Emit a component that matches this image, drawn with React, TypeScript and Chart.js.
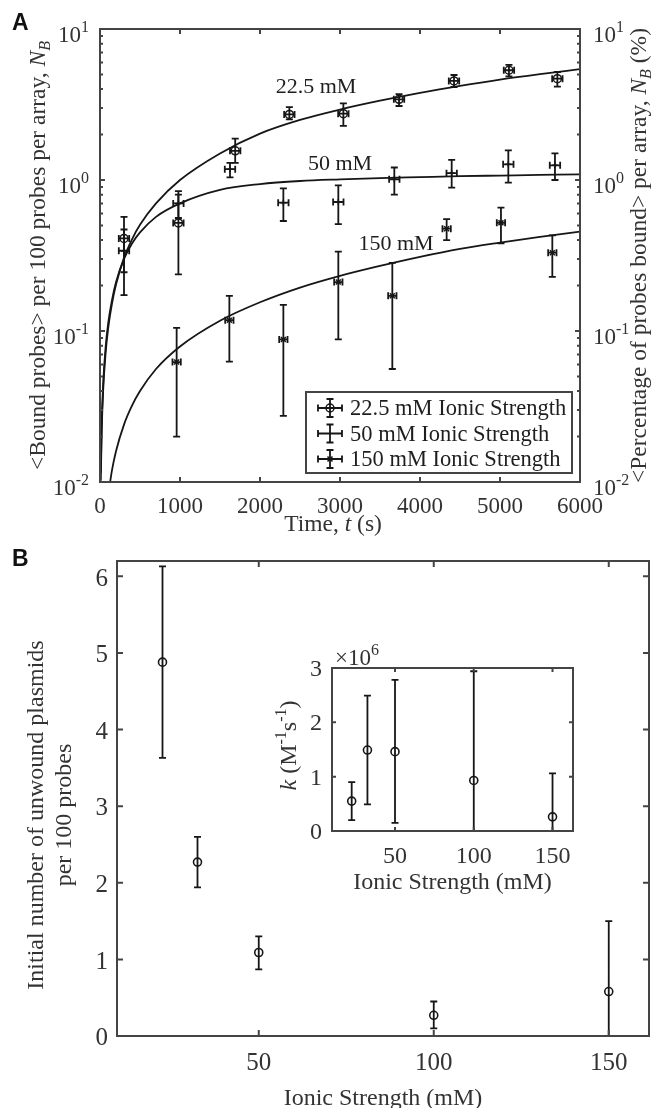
import React, { useEffect, useRef } from "react";
import { Chart, registerables } from "chart.js";

Chart.register(...registerables);

const SERIF = '"Liberation Serif", "Times New Roman", Times, serif';
const SANS = '"Liberation Sans", Arial, Helvetica, sans-serif';
const AXIS_COLOR = "#444444";
const TEXT_COLOR = "#333333";
const INK = "#161616";

// ---------------- Panel A data ----------------
const series225Time = [300, 980, 1690, 2367, 3042, 3738, 4425, 5112, 5717];
const series225Value = [0.41, 0.52, 1.56, 2.72, 2.75, 3.42, 4.53, 5.33, 4.69];
const series225Low = [0.245, 0.237, 1.3, 2.52, 2.28, 3.09, 4.13, 4.86, 4.15];
const series225High = [0.57, 0.8, 1.88, 3.04, 3.22, 3.7, 4.96, 5.78, 5.19];

const series50Time = [300, 980, 1625, 2292, 2979, 3679, 4396, 5104, 5687];
const series50Value = [0.34, 0.7, 1.18, 0.708, 0.715, 1.01, 1.11, 1.27, 1.25];
const series50Low = [0.173, 0.56, 1.04, 0.535, 0.51, 0.8, 0.89, 0.96, 1.0];
const series50High = [0.47, 0.845, 1.3, 0.88, 0.92, 1.21, 1.36, 1.57, 1.5];

const series150Time = [958, 1617, 2292, 2979, 3654, 4333, 5012, 5654];
const series150Value = [0.0623, 0.118, 0.088, 0.211, 0.171, 0.476, 0.521, 0.33];
const series150Low = [0.02, 0.0627, 0.0274, 0.088, 0.056, 0.4, 0.38, 0.228];
const series150High = [0.105, 0.171, 0.149, 0.335, 0.283, 0.55, 0.656, 0.43];

const timeErr = 65;

const fitTime = [10, 20, 40, 70, 100, 150, 200, 300, 400, 500, 700, 1000, 1500, 2000, 2500, 3000, 3500, 4000, 4500, 5000, 5500, 6000];
const fit225 = [0.0102, 0.0204, 0.041, 0.071, 0.102, 0.152, 0.203, 0.305, 0.405, 0.505, 0.7, 1.0, 1.5, 2.03, 2.5, 2.93, 3.35, 3.78, 4.2, 4.62, 5.02, 5.42];
const fit50 = [0.0115, 0.023, 0.045, 0.078, 0.11, 0.16, 0.21, 0.3, 0.38, 0.45, 0.57, 0.7, 0.86, 0.94, 0.985, 1.01, 1.03, 1.045, 1.06, 1.07, 1.08, 1.09];
const fitTime150 = [100, 150, 200, 300, 400, 500, 700, 1000, 1500, 2000, 2500, 3000, 3500, 4000, 4500, 5000, 5500, 6000];
const fit150 = [0.008, 0.012, 0.016, 0.024, 0.032, 0.04, 0.056, 0.079, 0.117, 0.155, 0.194, 0.232, 0.27, 0.31, 0.35, 0.385, 0.42, 0.455];

const legendLabels = ["22.5 mM Ionic Strength", "50 mM Ionic Strength", "150 mM Ionic Strength"];
const curveLabels = ["22.5 mM", "50 mM", "150 mM"];

// ---------------- Panel B data ----------------
const ionicStrength = [22.5, 32.5, 50, 100, 150];
const ionicTicks = [50, 100, 150];
const plasmidCount = [4.88, 2.27, 1.09, 0.27, 0.58];
const plasmidLow = [3.63, 1.94, 0.87, 0.1, -0.34];
const plasmidHigh = [6.13, 2.6, 1.3, 0.45, 1.5];

// inset: rate constant, in units of 10^6 M^-1 s^-1
const rateConst = [0.55, 1.49, 1.46, 0.93, 0.26];
const rateLow = [0.2, 0.49, 0.15, -1.08, -0.54];
const rateHigh = [0.9, 2.49, 2.78, 2.94, 1.06];

// ---------------- helpers ----------------
type Seg = { t: string; it?: boolean; sup?: boolean; sub?: boolean };

function segFont(s: Seg, size: number) {
  const sz = s.sup || s.sub ? Math.round(size * 0.68) : size;
  return `${s.it ? "italic " : ""}${sz}px ${SERIF}`;
}

function richText(
  ctx: CanvasRenderingContext2D,
  segs: Seg[],
  x: number,
  y: number,
  size: number,
  align: "left" | "center" | "right" = "center",
  rot = 0,
  color = TEXT_COLOR
) {
  ctx.save();
  ctx.translate(x, y);
  if (rot) ctx.rotate(rot);
  ctx.textBaseline = "alphabetic";
  ctx.textAlign = "left";
  ctx.fillStyle = color;
  let w = 0;
  for (const s of segs) {
    ctx.font = segFont(s, size);
    w += ctx.measureText(s.t).width;
  }
  let cx = align === "left" ? 0 : align === "center" ? -w / 2 : -w;
  const base = size * 0.33;
  for (const s of segs) {
    ctx.font = segFont(s, size);
    const dy = s.sup ? -size * 0.42 : s.sub ? size * 0.22 : 0;
    ctx.fillText(s.t, cx, base + dy);
    cx += ctx.measureText(s.t).width;
  }
  ctx.restore();
}

function pts(xs: number[], ys: number[]) {
  return xs.map((x, i) => ({ x, y: ys[i] }));
}

function drawFrame(chart: any, xVals: number[], yVals: number[], len: number, yMinor: number[] = [], minorLen = 0, lw = 2) {
  const { ctx, chartArea: a } = chart;
  const xs = chart.scales.x;
  const ys = chart.scales.y;
  ctx.save();
  ctx.strokeStyle = AXIS_COLOR;
  ctx.lineWidth = lw;
  ctx.beginPath();
  xVals.forEach((v) => {
    const p = xs.getPixelForValue(v);
    ctx.moveTo(p, a.bottom);
    ctx.lineTo(p, a.bottom - len);
    ctx.moveTo(p, a.top);
    ctx.lineTo(p, a.top + len);
  });
  yVals.forEach((v) => {
    const p = ys.getPixelForValue(v);
    ctx.moveTo(a.left, p);
    ctx.lineTo(a.left + len, p);
    ctx.moveTo(a.right, p);
    ctx.lineTo(a.right - len, p);
  });
  yMinor.forEach((v) => {
    const p = ys.getPixelForValue(v);
    ctx.moveTo(a.left, p);
    ctx.lineTo(a.left + minorLen, p);
    ctx.moveTo(a.right, p);
    ctx.lineTo(a.right - minorLen, p);
  });
  ctx.stroke();
  ctx.strokeRect(a.left, a.top, a.right - a.left, a.bottom - a.top);
  ctx.restore();
}

function errorBars(
  chart: any,
  xVals: number[],
  yVals: number[],
  lo: number[],
  hi: number[],
  xErr: number,
  cap: number
) {
  const { ctx, chartArea: a } = chart;
  const xs = chart.scales.x;
  const ys = chart.scales.y;
  ctx.save();
  ctx.beginPath();
  ctx.rect(a.left, a.top, a.right - a.left, a.bottom - a.top);
  ctx.clip();
  ctx.strokeStyle = INK;
  ctx.lineWidth = 1.8;
  ctx.beginPath();
  xVals.forEach((xv, i) => {
    const px = xs.getPixelForValue(xv);
    const py = ys.getPixelForValue(yVals[i]);
    const pl = ys.getPixelForValue(lo[i]);
    const ph = ys.getPixelForValue(hi[i]);
    ctx.moveTo(px, pl);
    ctx.lineTo(px, ph);
    ctx.moveTo(px - cap, pl);
    ctx.lineTo(px + cap, pl);
    ctx.moveTo(px - cap, ph);
    ctx.lineTo(px + cap, ph);
    if (xErr > 0) {
      const xl = xs.getPixelForValue(xv - xErr);
      const xh = xs.getPixelForValue(xv + xErr);
      ctx.moveTo(xl, py);
      ctx.lineTo(xh, py);
      ctx.moveTo(xl, py - cap);
      ctx.lineTo(xl, py + cap);
      ctx.moveTo(xh, py - cap);
      ctx.lineTo(xh, py + cap);
    }
  });
  ctx.stroke();
  ctx.restore();
}

function legendSymbol(ctx: CanvasRenderingContext2D, x: number, y: number, marker: string) {
  ctx.save();
  ctx.strokeStyle = INK;
  ctx.lineWidth = 1.8;
  ctx.beginPath();
  ctx.moveTo(x - 12, y);
  ctx.lineTo(x + 12, y);
  ctx.moveTo(x - 12, y - 3.5);
  ctx.lineTo(x - 12, y + 3.5);
  ctx.moveTo(x + 12, y - 3.5);
  ctx.lineTo(x + 12, y + 3.5);
  ctx.moveTo(x, y - 9);
  ctx.lineTo(x, y + 9);
  ctx.moveTo(x - 3.5, y - 9);
  ctx.lineTo(x + 3.5, y - 9);
  ctx.moveTo(x - 3.5, y + 9);
  ctx.lineTo(x + 3.5, y + 9);
  ctx.stroke();
  ctx.lineWidth = 1.5;
  if (marker === "circle") {
    ctx.beginPath();
    ctx.arc(x, y, 4, 0, Math.PI * 2);
    ctx.stroke();
  } else if (marker === "x") {
    ctx.beginPath();
    ctx.moveTo(x - 2.5, y - 2.5);
    ctx.lineTo(x + 2.5, y + 2.5);
    ctx.moveTo(x - 2.5, y + 2.5);
    ctx.lineTo(x + 2.5, y - 2.5);
    ctx.stroke();
  }
  ctx.restore();
}

function panelLabel(ctx: CanvasRenderingContext2D, text: string, x: number, y: number) {
  ctx.save();
  ctx.font = `bold 23px ${SANS}`;
  ctx.fillStyle = "#111";
  ctx.textBaseline = "middle";
  ctx.textAlign = "left";
  ctx.fillText(text, x, y);
  ctx.restore();
}

// ---------------- plugins ----------------
const panelAPlugin = {
  id: "panelADecor",
  beforeDatasetsDraw(chart: any) {
    errorBars(chart, series225Time, series225Value, series225Low, series225High, timeErr, 3.5);
    errorBars(chart, series50Time, series50Value, series50Low, series50High, timeErr, 3.5);
    errorBars(chart, series150Time, series150Value, series150Low, series150High, timeErr * 0.8, 3.5);
  },
  afterDatasetsDraw(chart: any) {
    const { ctx, chartArea: a } = chart;
    const xs = chart.scales.x;
    const ys = chart.scales.y;
    const xt = xs.ticks.map((t: any) => t.value);
    const eMin = Math.round(Math.log10(ys.min));
    const eMax = Math.round(Math.log10(ys.max));
    const decades: number[] = [];
    const minors: number[] = [];
    for (let e = eMin; e <= eMax; e++) {
      decades.push(Math.pow(10, e));
      if (e < eMax) for (let m = 2; m <= 9; m++) minors.push(m * Math.pow(10, e));
    }
    drawFrame(chart, xt, decades, 5, minors, 3);

    xt.forEach((v: number) => richText(ctx, [{ t: String(v) }], xs.getPixelForValue(v), a.bottom + 23, 23));
    decades.forEach((v) => {
      const e = Math.round(Math.log10(v));
      const py = ys.getPixelForValue(v) + 5;
      const segs = [{ t: "10" }, { t: String(e), sup: true }];
      richText(ctx, segs, a.left - 11, py, 23, "right");
      richText(ctx, segs, a.right + 13, py, 23, "left");
    });

    richText(ctx, [{ t: "Time, " }, { t: "t", it: true }, { t: " (s)" }], a.left + 233, a.bottom + 41, 23.5);
    richText(
      ctx,
      [{ t: "<Bound probes> per 100 probes per array, " }, { t: "N", it: true }, { t: "B", it: true, sub: true }],
      37,
      (a.top + a.bottom) / 2,
      23.5,
      "center",
      -Math.PI / 2
    );
    richText(
      ctx,
      [{ t: "<Percentage of probes bound> per array, " }, { t: "N", it: true }, { t: "B", it: true, sub: true }, { t: " (%)" }],
      a.right + 58,
      (a.top + a.bottom) / 2,
      23.5,
      "center",
      -Math.PI / 2
    );

    // curve annotations
    richText(ctx, [{ t: curveLabels[0] }], xs.getPixelForValue(2700), ys.getPixelForValue(4.5) + 4, 22, "center", 0, "#1e1e1e");
    richText(ctx, [{ t: curveLabels[1] }], xs.getPixelForValue(3000), ys.getPixelForValue(1.1) - 11, 22, "center", 0, "#1e1e1e");
    richText(ctx, [{ t: curveLabels[2] }], xs.getPixelForValue(3700), ys.getPixelForValue(0.34) - 8, 22, "center", 0, "#1e1e1e");

    // legend
    const lx0 = a.left + 206;
    const lx1 = a.right - 8;
    const ly0 = a.bottom - 90;
    const ly1 = a.bottom - 9;
    ctx.save();
    ctx.fillStyle = "#fff";
    ctx.fillRect(lx0, ly0, lx1 - lx0, ly1 - ly0);
    ctx.strokeStyle = AXIS_COLOR;
    ctx.lineWidth = 2;
    ctx.strokeRect(lx0, ly0, lx1 - lx0, ly1 - ly0);
    ctx.restore();
    const markers = ["circle", "none", "x"];
    legendLabels.forEach((lab, i) => {
      const ry = ly0 + 16 + i * 25.5;
      legendSymbol(ctx, lx0 + 24, ry, markers[i]);
      richText(ctx, [{ t: lab }], lx0 + 44, ry, 22.5, "left", 0, "#1e1e1e");
    });

    panelLabel(ctx, "A", 12, 24);
  },
};

const panelBPlugin = {
  id: "panelBDecor",
  beforeDatasetsDraw(chart: any) {
    errorBars(chart, ionicStrength, plasmidCount, plasmidLow, plasmidHigh, 0, 3.5);
  },
  afterDatasetsDraw(chart: any) {
    const { ctx, chartArea: a } = chart;
    const xs = chart.scales.x;
    const ys = chart.scales.y;
    const xt = xs.ticks.map((t: any) => t.value);
    const yt = ys.ticks.map((t: any) => t.value);
    drawFrame(chart, xt, yt, 6);
    xt.forEach((v: number) => richText(ctx, [{ t: String(v) }], xs.getPixelForValue(v), a.bottom + 26, 25));
    yt.forEach((v: number) => richText(ctx, [{ t: String(v) }], a.left - 9, ys.getPixelForValue(v) + 1, 25, "right"));
    richText(ctx, [{ t: "Ionic Strength (mM)" }], (a.left + a.right) / 2, a.bottom + 61, 24);
    const cy = a.top + 254;
    richText(ctx, [{ t: "Initial number of unwound plasmids" }], 35, cy, 24, "center", -Math.PI / 2);
    richText(ctx, [{ t: "per 100 probes" }], 63, cy, 24, "center", -Math.PI / 2);
    panelLabel(ctx, "B", 12, 15);
  },
};

const insetPlugin = {
  id: "insetDecor",
  beforeDatasetsDraw(chart: any) {
    const { ctx, chartArea: a } = chart;
    ctx.save();
    ctx.fillStyle = "#fff";
    ctx.fillRect(a.left, a.top, a.right - a.left, a.bottom - a.top);
    ctx.restore();
    errorBars(chart, ionicStrength, rateConst, rateLow, rateHigh, 0, 3.5);
  },
  afterDatasetsDraw(chart: any) {
    const { ctx, chartArea: a } = chart;
    const xs = chart.scales.x;
    const ys = chart.scales.y;
    const xt = xs.ticks.map((t: any) => t.value);
    const yt = ys.ticks.map((t: any) => t.value);
    drawFrame(chart, xt, yt, 4);
    xt.forEach((v: number) => richText(ctx, [{ t: String(v) }], xs.getPixelForValue(v), a.bottom + 24, 24));
    yt.forEach((v: number) => richText(ctx, [{ t: String(v) }], a.left - 10, ys.getPixelForValue(v), 24, "right"));
    richText(ctx, [{ t: "×10" }, { t: "6", sup: true }], a.left + 3, a.top - 11, 23, "left");
    richText(ctx, [{ t: "Ionic Strength (mM)" }], (a.left + a.right) / 2, a.bottom + 50, 24);
    richText(
      ctx,
      [{ t: "k", it: true }, { t: " (M" }, { t: "-1", sup: true }, { t: "s" }, { t: "-1", sup: true }, { t: ")" }],
      a.left - 44,
      (a.top + a.bottom) / 2 - 4,
      24,
      "center",
      -Math.PI / 2
    );
  },
};

const baseOptions = (padding: any, scales: any) => ({
  responsive: false,
  animation: false as const,
  events: [] as any[],
  layout: { padding },
  plugins: { legend: { display: false }, tooltip: { enabled: false } },
  scales,
});

const fixedTicks = (values: number[]) => (scale: any) => {
  scale.ticks = values.map((value) => ({ value }));
};

function CanvasChart({ width, height, style, config }: { width: number; height: number; style: any; config: () => any }) {
  const ref = useRef<HTMLCanvasElement | null>(null);
  useEffect(() => {
    if (!ref.current) return;
    const chart = new Chart(ref.current, config());
    return () => chart.destroy();
  }, []);
  return (
    <div style={{ position: "absolute", width, height, ...style }}>
      <canvas ref={ref} width={width} height={height} style={{ display: "block", width, height }} />
    </div>
  );
}

const configA = () => ({
  type: "line",
  data: {
    datasets: [
      { label: "fit 22.5", data: pts(fitTime, fit225), borderColor: INK, borderWidth: 1.8, pointRadius: 0, cubicInterpolationMode: "monotone", fill: false, clip: 0 },
      { label: "fit 50", data: pts(fitTime, fit50), borderColor: INK, borderWidth: 1.8, pointRadius: 0, cubicInterpolationMode: "monotone", fill: false, clip: 0 },
      { label: "fit 150", data: pts(fitTime150, fit150), borderColor: INK, borderWidth: 1.8, pointRadius: 0, cubicInterpolationMode: "monotone", fill: false, clip: 0 },
      { label: legendLabels[0], data: pts(series225Time, series225Value), showLine: false, pointStyle: "circle", pointRadius: 4, pointBorderWidth: 1.5, pointBorderColor: INK, pointBackgroundColor: "transparent", borderColor: INK },
      { label: legendLabels[1], data: pts(series50Time, series50Value), showLine: false, pointStyle: "cross", pointRadius: 3, pointBorderWidth: 1.5, pointBorderColor: INK, pointBackgroundColor: "transparent", borderColor: INK },
      { label: legendLabels[2], data: pts(series150Time, series150Value), showLine: false, pointStyle: "crossRot", pointRadius: 3.5, pointBorderWidth: 1.5, pointBorderColor: INK, pointBackgroundColor: "transparent", borderColor: INK },
    ],
  },
  options: baseOptions(
    { left: 100, right: 75, top: 29, bottom: 63 },
    {
      x: { type: "linear", display: false, min: 0, max: 6000, ticks: { stepSize: 1000 } },
      y: { type: "logarithmic", display: false, min: 0.01, max: 10 },
    }
  ),
  plugins: [panelAPlugin],
});

const configB = () => ({
  type: "line",
  data: {
    datasets: [
      { label: "plasmids", data: pts(ionicStrength, plasmidCount), showLine: false, pointStyle: "circle", pointRadius: 4, pointBorderWidth: 1.6, pointBorderColor: INK, pointBackgroundColor: "transparent", borderColor: INK },
    ],
  },
  options: baseOptions(
    { left: 117, right: 6, top: 16, bottom: 72 },
    {
      x: { type: "linear", display: false, min: 9.5, max: 161.5, afterBuildTicks: fixedTicks(ionicTicks) },
      y: { type: "linear", display: false, min: 0, max: 6.2, ticks: { stepSize: 1, includeBounds: false } },
    }
  ),
  plugins: [panelBPlugin],
});

const configInset = () => ({
  type: "line",
  data: {
    datasets: [
      { label: "k", data: pts(ionicStrength, rateConst), showLine: false, pointStyle: "circle", pointRadius: 4, pointBorderWidth: 1.6, pointBorderColor: INK, pointBackgroundColor: "transparent", borderColor: INK },
    ],
  },
  options: baseOptions(
    { left: 82, right: 37, top: 43, bottom: 74 },
    {
      x: { type: "linear", display: false, min: 10, max: 163, afterBuildTicks: fixedTicks(ionicTicks) },
      y: { type: "linear", display: false, min: 0, max: 3, ticks: { stepSize: 1 } },
    }
  ),
  plugins: [insetPlugin],
});

export default function App() {
  return (
    <div style={{ position: "absolute", left: 0, top: 0, width: 655, height: 1108, background: "#fff", overflow: "hidden" }}>
      <CanvasChart width={655} height={545} style={{ left: 0, top: 0 }} config={configA} />
      <CanvasChart width={655} height={563} style={{ left: 0, top: 545 }} config={configB} />
      <CanvasChart width={360} height={280} style={{ left: 250, top: 625 }} config={configInset} />
    </div>
  );
}
